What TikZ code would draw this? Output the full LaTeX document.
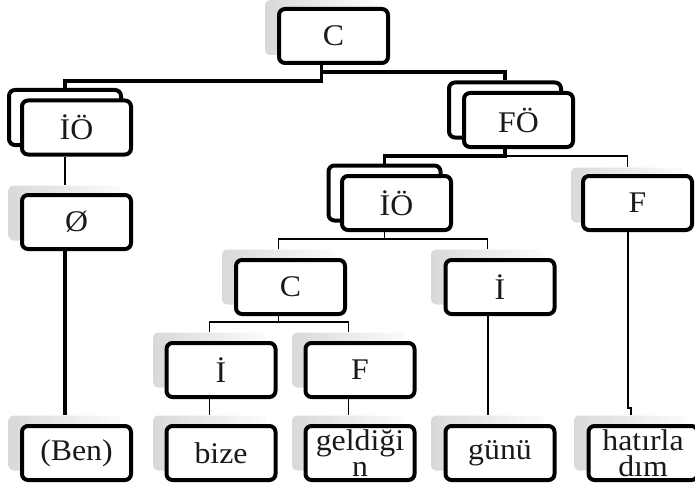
\documentclass[tikz,border=0pt]{standalone}
\usepackage{fontspec}
\setmainfont{Liberation Serif}[FakeStretch=1.06]
\begin{document}
\begin{tikzpicture}[x=1pt,y=-1pt,
  lbl/.style={font=\fontsize{30}{26}\selectfont, text=black!90, align=center},
  frontbox/.style={lbl, draw=black, line width=4pt, rounded corners=6pt, fill=white, minimum width=109pt, minimum height=54pt, inner sep=0pt},
  backbox/.style={draw=black, line width=4pt, rounded corners=6pt, fill=white, minimum width=112pt, minimum height=55pt, inner sep=0pt},
  shadowbox/.style={rounded corners=5pt, minimum width=113pt, minimum height=55pt, inner sep=0pt, left color=gray!30, right color=gray!3},
  thickc/.style={line width=3.5pt},
  midc/.style={line width=2pt},
  thinc/.style={line width=1.3pt}]
\useasboundingbox (0,0) rectangle (695,492);
\clip (0,0) rectangle (695,492);

% level 0
\node[shadowbox] (cTs) at (321.5,27.5) {};
\node[frontbox] (cT) at (333.5,36) {C};
% level 1
\node[backbox] (ioLb) at (65,117.5) {};
\node[frontbox] (ioL) at (76.5,127.5) {İÖ};
\node[backbox] (fob) at (505,110) {};
\node[frontbox] (fo) at (518.5,120) {FÖ};
% level 2
\node[backbox] (io2b) at (384.5,193) {};
\node[frontbox] (io2) at (396.5,203) {İÖ};
\node[shadowbox] (fs) at (627.5,195) {};
\node[frontbox] (f) at (637.5,203) {F};
\node[shadowbox] (zs) at (65,213) {};
\node[frontbox] (z) at (76.5,222) {Ø};
% level 3
\node[shadowbox] (cms) at (278.5,277) {};
\node[frontbox] (cm) at (290.5,287) {C};
\node[shadowbox] (ims) at (487.5,277) {};
\node[frontbox] (im) at (500,287) {İ};
% level 4
\node[shadowbox] (ils) at (209.5,360) {};
\node[frontbox] (il) at (221,370) {İ};
\node[shadowbox] (fls) at (348.5,360) {};
\node[frontbox] (fl) at (360,370) {F};
% leaves
\node[shadowbox] (bens) at (65,443) {};
\node[frontbox] (ben) at (76.5,453) {(Ben)};
\node[shadowbox] (bizes) at (209.5,443) {};
\node[frontbox] (bize) at (221,453) {bize};
\node[shadowbox] (gels) at (348.5,443) {};
\node[frontbox] (gel) at (360,453) {geldiği\\n};
\node[shadowbox] (gunus) at (487.5,443) {};
\node[frontbox] (gunu) at (500,453) {günü};
\node[shadowbox] (hats) at (630.5,443) {};
\node[frontbox] (hat) at (643,453) {hatırla\\dım};

% connectors
\draw[thickc] (cTs.center |- cT.south) -- ++(0,16) -| (ioLb.north);
\draw[thickc] (cTs.center |- cT.south) -- ++(0,7) -| (fob.north);
\draw[thickc] (fob.center |- fo.south) -- ++(0,7) -| (io2b.north);
\draw[thinc] (fob.center |- fo.south) -- ++(0,7) -| (fs.north);
\draw[thinc] (ioLb.center |- ioL.south) -- (zs.north);
\draw[thickc] (zs.center |- z.south) -- (bens.north);
\draw[thinc] (io2b.center |- io2.south) -- ++(0,7) -| (cms.north);
\draw[thinc] (io2b.center |- io2.south) -- ++(0,7) -| (ims.north);
\draw[thinc] (cms.center |- cm.south) -- ++(0,6) -| (ils.north);
\draw[thinc] (cms.center |- cm.south) -- ++(0,6) -| (fls.north);
\draw[thinc] (ils.center |- il.south) -- (bizes.north);
\draw[thinc] (fls.center |- fl.south) -- (gels.north);
\draw[midc] (ims.center |- im.south) -- (gunus.north);
\draw[midc] (fs.center |- f.south) -- ++(0,176) -| (hats.north);
\end{tikzpicture}
\end{document}
